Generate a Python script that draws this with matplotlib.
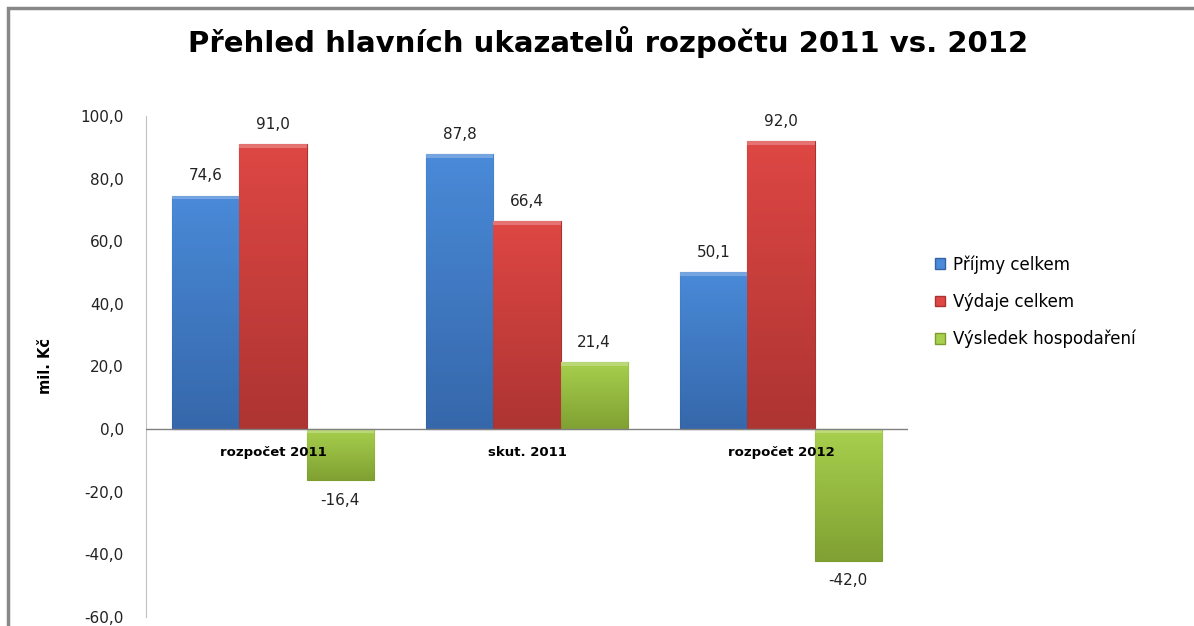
import numpy as np
import matplotlib
matplotlib.use('Agg')
import matplotlib.pyplot as plt
from matplotlib.patches import Rectangle, Patch
from matplotlib.colors import LinearSegmentedColormap

# data
categories = ['rozpočet 2011', 'skut. 2011', 'rozpočet 2012']
series_names = ['Příjmy celkem', 'Výdaje celkem', 'Výsledek hospodaření']
prijmy = [74.6, 87.8, 50.1]
vydaje = [91.0, 66.4, 92.0]
vysledek = [-16.4, 21.4, -42.0]
yticks = [-60, -40, -20, 0, 20, 40, 60, 80, 100]

# (light, dark) colours for gradient
colors = [('#4a8ad8', '#3464a6'), ('#de4744', '#a83331'), ('#a8d04e', '#7c9c30')]

W, H = 1194, 626
fig = plt.figure(figsize=(W / 100, H / 100), dpi=100)
fig.patch.set_facecolor('white')

# outer frame (only top/left visible)
fig.add_artist(Rectangle((8 / W, -0.2), 1.2, 1.2 - 8 / H, transform=fig.transFigure,
                         fill=False, edgecolor='#888888', linewidth=2.5))

ax = fig.add_axes([146 / W, 1 - 617 / H, (908 - 146) / W, (617 - 116) / H])
ax.set_xlim(-0.5, 2.5)
ax.set_ylim(-60, 100)

bw = 0.264
x = np.arange(len(categories))
all_vals = [prijmy, vydaje, vysledek]
for i, vals in enumerate(all_vals):
    light, dark = colors[i]
    cmap = LinearSegmentedColormap.from_list('g%d' % i, [dark, light])
    xs = x + (i - 1) * bw
    bars = ax.bar(xs, vals, width=bw, color=light, edgecolor=dark, linewidth=0.8, zorder=2)
    for b, v in zip(bars, vals):
        x0 = b.get_x()
        y0, y1 = min(0, v), max(0, v)
        grad = np.linspace(0, 1, 100).reshape(-1, 1)
        im = ax.imshow(grad, extent=[x0, x0 + bw, y0, y1], origin='lower', aspect='auto',
                       cmap=cmap, zorder=2.5, alpha=0.9)
        im.set_clip_path(b)
        # top bevel highlight
        ax.add_patch(Rectangle((x0, y1 - 1.2), bw, 1.2,
                               facecolor='white', alpha=0.25, edgecolor='none', zorder=3))
        lbl = ('%.1f' % v).replace('.', ',')
        if v >= 0:
            ax.text(b.get_x() + bw / 2, v + 4, lbl, ha='center', va='bottom', fontsize=11, color='#222222')
        else:
            ax.text(b.get_x() + bw / 2, v - 4, lbl, ha='center', va='top', fontsize=11, color='#222222')

ax.axhline(0, color='#808080', linewidth=1, zorder=4)

for xi, c in zip(x, categories):
    ax.text(xi, -7.5, c, ha='center', va='center', fontsize=9.5, fontweight='bold', zorder=5)

ax.set_xticks([])
ax.set_yticks(yticks)
ax.set_yticklabels([('%.1f' % t).replace('.', ',') for t in yticks], fontsize=11, color='#222222')
ax.tick_params(axis='y', length=0, pad=16)
for s in ['top', 'right', 'bottom']:
    ax.spines[s].set_visible(False)
ax.spines['left'].set_color('#c0c0c0')
ax.set_ylabel('mil. Kč', fontsize=10.5, fontweight='bold')
ax.yaxis.set_label_coords(-0.122, 0.5)

fig.text(608 / W, 1 - 42 / H, 'Přehled hlavních ukazatelů rozpočtu 2011 vs. 2012',
         ha='center', va='center', fontsize=21, fontweight='bold')

handles = [Patch(facecolor=c[0], edgecolor=c[1]) for c in colors]
fig.legend(handles, series_names, loc='upper left', bbox_to_anchor=(920 / W, 1 - 240 / H),
           frameon=False, fontsize=12, handlelength=0.6, handleheight=0.6,
           handletextpad=0.5, labelspacing=1.15)

fig.savefig('out.png', dpi=100)
